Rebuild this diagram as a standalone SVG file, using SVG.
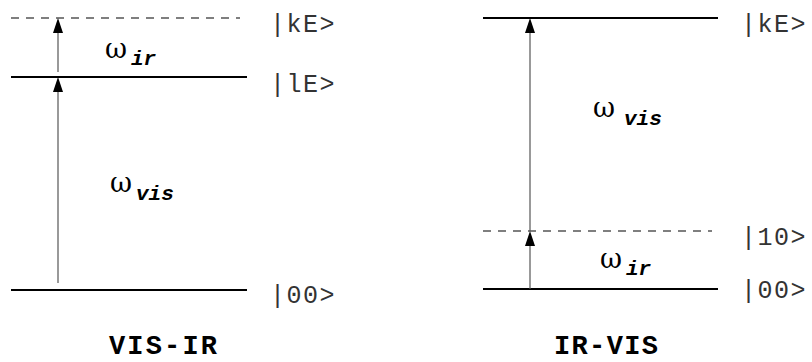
<svg xmlns="http://www.w3.org/2000/svg" width="812" height="362" viewBox="0 0 812 362">
<style>
.lvl{stroke:#000;stroke-width:2;fill:none}
.dash{stroke:#555;stroke-width:1.3;stroke-dasharray:8 7;fill:none}
.stem{stroke:#555;stroke-width:1.2;fill:none}
.lab{font-family:"Liberation Mono",monospace;font-size:25px;letter-spacing:1.5px;fill:#333}
.om{font-family:"DejaVu Serif","Liberation Serif",serif;font-size:27px;fill:#000}
.sub{font-family:"Liberation Mono",monospace;font-size:21px;font-weight:bold;font-style:italic;fill:#000}
.ttl{font-family:"Liberation Mono",monospace;font-size:27px;font-weight:bold;fill:#000}
</style>
<defs>
<path id="head" d="M-5,15 L0,0 L5,15 Z" fill="#000"/>
</defs>
<g id="levels-left">
<line class="dash" x1="11" y1="18" x2="240" y2="18"/>
<line class="lvl" x1="11" y1="77" x2="247" y2="77"/>
<line class="lvl" x1="11" y1="290" x2="247" y2="290"/>
</g>
<g id="levels-right">
<line class="lvl" x1="483" y1="18" x2="718" y2="18"/>
<line class="dash" x1="483" y1="231" x2="712" y2="231"/>
<line class="lvl" x1="483" y1="289" x2="718" y2="289"/>
</g>
<g id="connectors">
<path class="stem" d="M58,283 L58,80"/>
<path class="stem" d="M58,72 L58,21"/>
<path class="stem" d="M530,289 L530,234"/>
<path class="stem" d="M530,231 L530,21"/>
<use href="#head" x="58" y="18"/>
<use href="#head" x="58" y="77"/>
<use href="#head" x="530" y="18"/>
<use href="#head" x="530" y="231"/>
</g>
<g id="labels-left">
<text class="lab" x="270" y="32">|kE&gt;</text>
<text class="lab" x="270" y="92">|lE&gt;</text>
<text class="lab" x="270" y="303">|00&gt;</text>
</g>
<g id="labels-right">
<text class="lab" x="741" y="32">|kE&gt;</text>
<text class="lab" x="741" y="245">|10&gt;</text>
<text class="lab" x="741" y="298">|00&gt;</text>
</g>
<g id="omega-ir-left"><text class="om" x="105" y="58">ω</text><text class="sub" x="131" y="65">ir</text></g>
<g id="omega-vis-left"><text class="om" x="110" y="192">ω</text><text class="sub" x="136" y="200">vis</text></g>
<g id="omega-vis-right"><text class="om" x="593" y="117">ω</text><text class="sub" x="624" y="125">vis</text></g>
<g id="omega-ir-right"><text class="om" x="600" y="268">ω</text><text class="sub" x="626" y="275">ir</text></g>
<g id="titles">
<text class="ttl" x="109" y="354" textLength="108">VIS-IR</text>
<text class="ttl" x="554" y="354" textLength="104">IR-VIS</text>
</g>
</svg>
